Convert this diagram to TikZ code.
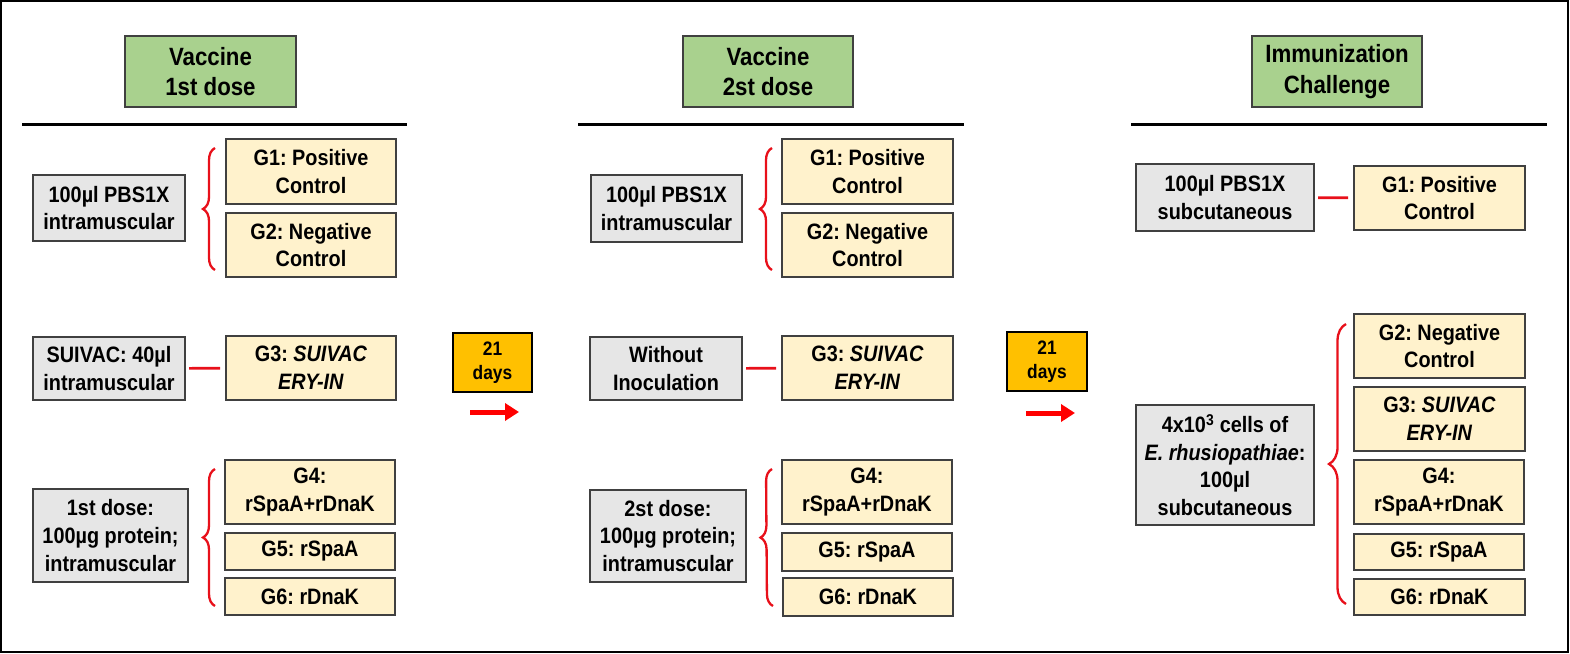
\documentclass[tikz,border=0pt]{standalone}
\usepackage{fontspec}
\setmainfont[FakeStretch=0.89]{Liberation Sans}
\usetikzlibrary{arrows.meta,decorations.pathreplacing,calc}
\definecolor{hdrgreen}{HTML}{A9D18E}
\definecolor{grpyellow}{HTML}{FFF2CC}
\definecolor{srcgray}{HTML}{E6E6E6}
\definecolor{daygold}{HTML}{FFC000}
\definecolor{boxline}{HTML}{404040}
\definecolor{linkred}{HTML}{E8101A}
\definecolor{arrred}{HTML}{FF0000}
\frenchspacing
\begin{document}
\begin{tikzpicture}[x=1pt,y=-1pt,
  base/.style={draw=boxline, line width=1.3pt, inner sep=0pt, outer sep=0pt, align=center, text=black,
    font=\fontsize{22.3}{27.6}\selectfont\bfseries},
  hdr/.style={base, fill=hdrgreen, font=\fontsize{25}{30.5}\selectfont\bfseries},
  grp/.style={base, fill=grpyellow},
  src/.style={base, fill=srcgray},
  daybox/.style={base, fill=daygold, draw=black, line width=1.6pt, font=\fontsize{19.5}{24}\selectfont\bfseries},
  link/.style={draw=linkred, line width=2.6pt, shorten <=4pt, shorten >=6pt},
  brc/.style={draw=linkred, line width=2.3pt, decorate, decoration={brace, amplitude=#1}},
  brc/.default=12pt,
  timearrow/.style={draw=arrred, line width=5pt, -{Triangle[length=14pt,width=17pt]}},
  rulebar/.style={draw=black, line width=3pt}
]
\useasboundingbox (0,0) rectangle (1570,653);
\draw[black, line width=2pt] (1,1) rectangle (1568,651.5);

% ---------------- Column 1 ----------------
\node[hdr, minimum width=171pt, minimum height=71pt] (h1) at (210.5,71.5) {Vaccine\\1st dose};
\draw[rulebar] (22,124) -- (407,124);
\node[src, minimum width=152pt, minimum height=66pt] (a1) at (109,208) {100µl PBS1X\\intramuscular};
\node[grp, minimum width=170pt, minimum height=65pt] (a1g1) at (311,171.5) {G1: Positive\\Control};
\node[grp, minimum width=170pt, minimum height=64pt] (a1g2) at (311,245) {G2: Negative\\Control};
\node[src, minimum width=152pt, minimum height=63pt] (a2) at (109,368.5) {SUIVAC: 40µl\\intramuscular};
\node[grp, minimum width=170pt, minimum height=64pt] (a2g3) at (311,368) {G3: \textit{SUIVAC}\\\textit{ERY-IN}};
\node[src, minimum width=155pt, minimum height=93pt] (a3) at (110.5,535.5) {1st dose:\\100µg protein;\\intramuscular};
\node[grp, minimum width=170pt, minimum height=64pt] (a3g4) at (310,492) {G4:\\rSpaA+rDnaK};
\node[grp, minimum width=170pt, minimum height=37pt] (a3g5) at (310,551.5) {G5: rSpaA};
\node[grp, minimum width=170pt, minimum height=37pt] (a3g6) at (310,596.5) {G6: rDnaK};
\coordinate (a1bt) at ($(a1g1.north west)+(-11,9)$);
\coordinate (a1bb) at ($(a1g2.south west)+(-11,-7)$);
\draw[brc] (a1bb) -- (a1bt);
\draw[link] (a2) -- (a2g3);
\coordinate (a3bt) at ($(a3g4.north west)+(-10,9)$);
\coordinate (a3bb) at ($(a3g6.south west)+(-10,-9)$);
\draw[brc] (a3bb) -- (a3bt);

\node[daybox, minimum width=79pt, minimum height=59pt] (d1) at (492.5,362.5) {21\\days};
\coordinate (t1s) at (470,412);
\coordinate (t1e) at (519,412);
\draw[timearrow] (t1s) -- (t1e);

% ---------------- Column 2 ----------------
\node[hdr, minimum width=170pt, minimum height=71pt] (h2) at (768,71.5) {Vaccine\\2st dose};
\draw[rulebar] (578,124) -- (964,124);
\node[src, minimum width=151pt, minimum height=67pt] (b1) at (666.5,208.5) {100µl PBS1X\\intramuscular};
\node[grp, minimum width=171pt, minimum height=65pt] (b1g1) at (867.5,171.5) {G1: Positive\\Control};
\node[grp, minimum width=171pt, minimum height=64pt] (b1g2) at (867.5,245) {G2: Negative\\Control};
\node[src, minimum width=152pt, minimum height=63pt] (b2) at (666,368.5) {Without\\Inoculation};
\node[grp, minimum width=171pt, minimum height=64pt] (b2g3) at (867.5,368) {G3: \textit{SUIVAC}\\\textit{ERY-IN}};
\node[src, minimum width=156pt, minimum height=92pt] (b3) at (668,536) {2st dose:\\100µg protein;\\intramuscular};
\node[grp, minimum width=170pt, minimum height=64pt] (b3g4) at (867,492) {G4:\\rSpaA+rDnaK};
\node[grp, minimum width=170pt, minimum height=38pt] (b3g5) at (867,552) {G5: rSpaA};
\node[grp, minimum width=170pt, minimum height=38pt] (b3g6) at (868,597) {G6: rDnaK};
\coordinate (b1bt) at ($(b1g1.north west)+(-10,9)$);
\coordinate (b1bb) at ($(b1g2.south west)+(-10,-7)$);
\draw[brc] (b1bb) -- (b1bt);
\draw[link] (b2) -- (b2g3);
\coordinate (b3bt) at ($(b3g4.north west)+(-10,9)$);
\coordinate (b3bb) at ($(b3g6.south west)+(-10,-10)$);
\draw[brc] (b3bb) -- (b3bt);

\node[daybox, minimum width=80pt, minimum height=59pt] (d2) at (1047,361.5) {21\\days};
\coordinate (t2s) at (1026,413);
\coordinate (t2e) at (1075,413);
\draw[timearrow] (t2s) -- (t2e);

% ---------------- Column 3 ----------------
\node[hdr, minimum width=170pt, minimum height=71pt] (h3) at (1337,71.5) {Immunization\\Challenge};
\draw[rulebar] (1131,124) -- (1547,124);
\node[src, minimum width=178pt, minimum height=67pt] (c1) at (1225,197.5) {100µl PBS1X\\subcutaneous};
\node[grp, minimum width=171pt, minimum height=64pt] (c1g1) at (1439.5,198) {G1: Positive\\Control};
\draw[link] (c1) -- (c1g1);
\node[src, minimum width=178pt, minimum height=120pt] (c2) at (1225,465) {4x10\textsuperscript{3} cells of\\\textit{E. rhusiopathiae}:\\100µl\\subcutaneous};
\node[grp, minimum width=171pt, minimum height=64pt] (c2g2) at (1439.5,346) {G2: Negative\\Control};
\node[grp, minimum width=171pt, minimum height=64pt] (c2g3) at (1439.5,419) {G3: \textit{SUIVAC}\\\textit{ERY-IN}};
\node[grp, minimum width=170pt, minimum height=64pt] (c2g4) at (1439,492) {G4:\\rSpaA+rDnaK};
\node[grp, minimum width=170pt, minimum height=36pt] (c2g5) at (1439,552) {G5: rSpaA};
\node[grp, minimum width=171pt, minimum height=36pt] (c2g6) at (1439.5,597) {G6: rDnaK};
\coordinate (c2bt) at ($(c2g2.north west)+(-8,10)$);
\coordinate (c2bb) at ($(c2g6.south west)+(-8,-11)$);
\draw[brc=17pt] (c2bb) -- (c2bt);
\end{tikzpicture}
\end{document}
